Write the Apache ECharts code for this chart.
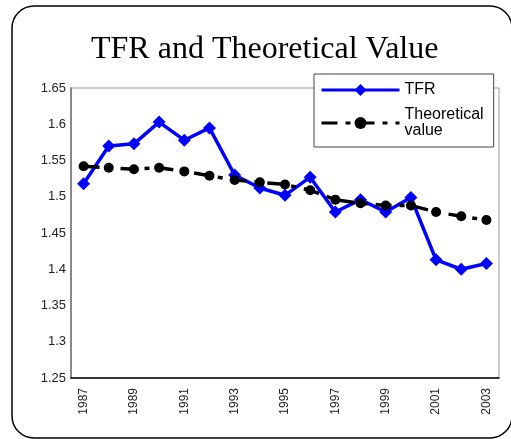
<!DOCTYPE html>
<html>
<head>
<meta charset="utf-8">
<script src="https://cdn.jsdelivr.net/npm/echarts@6/dist/echarts.min.js"></script>
<style>
  html, body { margin: 0; padding: 0; background: #fff; }
  #main { width: 511px; height: 439px; }
</style>
</head>
<body>
<div id="main"></div>
<script>
var years = ['1987','1988','1989','1990','1991','1992','1993','1994','1995',
             '1996','1997','1998','1999','2000','2001','2002','2003'];
var tfr = [1.518, 1.570, 1.573, 1.603, 1.578, 1.595, 1.530, 1.512, 1.502,
           1.527, 1.479, 1.496, 1.479, 1.499, 1.413, 1.400, 1.408];
var theoretical = [1.542, 1.540, 1.538, 1.540, 1.535, 1.529, 1.523, 1.520, 1.517,
                   1.509, 1.496, 1.491, 1.488, 1.488, 1.479, 1.473, 1.468];
var yTicks = [1.25, 1.3, 1.35, 1.4, 1.45, 1.5, 1.55, 1.6, 1.65];

var dom = document.getElementById('main');
var myChart = echarts.init(dom);
var option = {
    backgroundColor: '#fff',
    animation: false,
    title: {
        text: 'TFR and Theoretical Value',
        left: 91,
        top: 34,
        padding: 0,
        textStyle: {
            fontFamily: 'Liberation Serif',
            fontSize: 32,
            fontWeight: 'normal',
            color: '#000'
        }
    },
    graphic: [{
        type: 'rect',
        z: -1,
        shape: { x: 12, y: 6, width: 500, height: 432, r: 22 },
        style: { fill: 'none', stroke: '#000', lineWidth: 1.5 }
    }],
    legend: {
        orient: 'vertical',
        left: 314,
        top: 74,
        padding: [8, 10, 8, 6],
        itemGap: 9,
        itemWidth: 78,
        itemHeight: 15,
        backgroundColor: '#fff',
        borderColor: '#444',
        borderWidth: 1,
        z: 10,
        lineStyle: { width: 3 },
        textStyle: {
            fontFamily: 'Liberation Sans',
            fontSize: 16,
            color: '#000',
            lineHeight: 16
        },
        formatter: function (name) {
            return name === 'Theoretical value' ? 'Theoretical\nvalue' : name;
        },
        data: ['TFR', 'Theoretical value']
    },
    grid: {
        left: 71,
        right: 12,
        top: 88,
        height: 290,
        show: true,
        borderColor: '#999',
        borderWidth: 1
    },
    xAxis: {
        type: 'category',
        data: years,
        boundaryGap: true,
        axisLine: { lineStyle: { color: '#000', width: 1.5 } },
        axisTick: { inside: true, length: 5, lineStyle: { color: '#000' } },
        axisLabel: {
            rotate: 90,
            interval: 1,
            margin: 10,
            fontFamily: 'Liberation Sans',
            fontSize: 12,
            color: '#222'
        },
        splitLine: { show: false }
    },
    yAxis: {
        type: 'value',
        min: yTicks[0],
        max: yTicks[yTicks.length - 1],
        interval: 0.05,
        axisLine: { show: true, lineStyle: { color: '#888', width: 2 } },
        axisTick: { show: false },
        splitLine: { show: false },
        axisLabel: {
            margin: 5,
            fontFamily: 'Liberation Sans',
            fontSize: 13,
            color: '#222',
            formatter: function (v) {
                return String(parseFloat(v.toFixed(2)));
            }
        }
    },
    series: [
        {
            name: 'TFR',
            type: 'line',
            data: tfr,
            symbol: 'diamond',
            symbolSize: 13,
            itemStyle: { color: '#0000ff' },
            lineStyle: { color: '#0000ff', width: 3.5 },
            z: 3
        },
        {
            name: 'Theoretical value',
            type: 'line',
            data: theoretical,
            symbol: 'circle',
            symbolSize: 10,
            itemStyle: { color: '#000' },
            lineStyle: { color: '#000', width: 3.5, type: [16, 8, 5, 8] },
            z: 4
        }
    ]
};
myChart.setOption(option, true);
window.onresize = myChart.resize;
</script>
</body>
</html>
